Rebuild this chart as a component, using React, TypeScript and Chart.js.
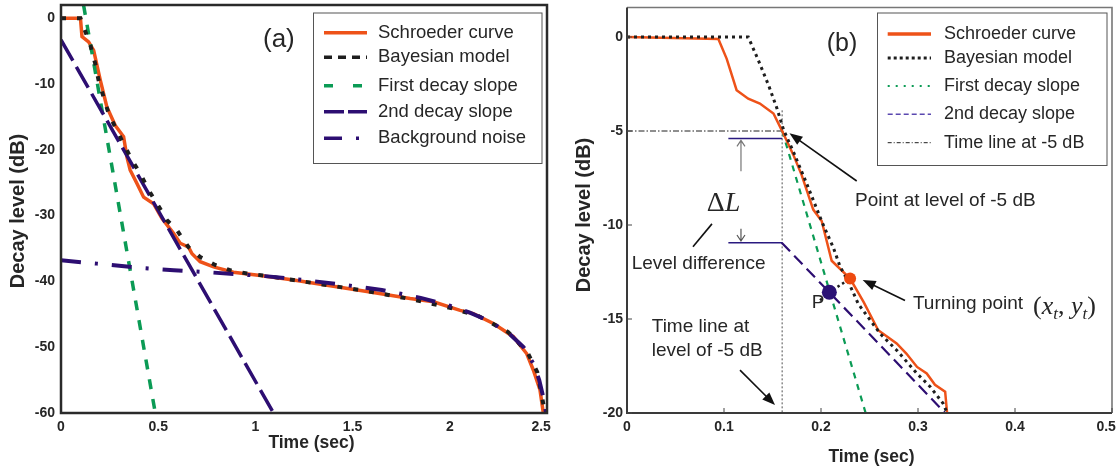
import React, { useEffect, useRef } from "react";
import { Chart, registerables } from "chart.js";
Chart.register(...registerables);

const SANS = "'Liberation Sans', Arial, Helvetica, sans-serif";
const SERIF = "'Liberation Serif', 'Times New Roman', Times, serif";

const ORANGE = "#EE5219";
const BLACK = "#1e1e1e";
const GREEN = "#0B9B55";
const PURPLE = "#2D0E72";
const TEXT = "#262626";

// ---------------- Panel (a) data ----------------
const aXTicks = [0, 0.5, 1, 1.5, 2, 2.5];
const aYTicks = [-60, -50, -40, -30, -20, -10, 0];
const aSchroederT = [0, 0.1, 0.108, 0.142, 0.168, 0.202, 0.236, 0.279, 0.322, 0.339, 0.356, 0.39, 0.425, 0.476, 0.519, 0.579, 0.613, 0.656, 0.674, 0.716, 0.785, 0.887, 1.025, 1.196, 1.368, 1.59, 1.796, 1.916, 2.053, 2.121, 2.224, 2.327, 2.396, 2.43, 2.464, 2.481];
const aSchroederL = [0, 0, -2.8, -3.6, -4.9, -9.4, -13.5, -16.3, -18, -21.1, -23.1, -25.1, -27.2, -28.2, -30.4, -32.7, -34.2, -34.8, -35.8, -37, -37.8, -38.6, -39.1, -39.8, -40.6, -41.6, -42.6, -43.1, -44.4, -44.9, -46.4, -48.4, -51, -53.5, -56.5, -60];
const aBayesT = [0, 0.1, 0.151, 0.176, 0.193, 0.219, 0.245, 0.3, 0.365, 0.408, 0.45, 0.494, 0.545, 0.596, 0.656, 0.716, 0.793, 0.87, 0.956, 1.04, 1.196, 1.4, 1.6, 1.8, 2.0, 2.15, 2.3, 2.4, 2.45, 2.49];
const aBayesL = [0, 0, -4.1, -6.9, -9.4, -12, -14.5, -17.8, -21.6, -23.6, -26.1, -28.2, -30.7, -32.2, -34.8, -36.3, -37.5, -38.3, -38.8, -39.1, -39.8, -40.7, -41.6, -42.7, -44, -45.3, -47.7, -50.8, -53.8, -60];
const aFirstT = [0.116, 0.485];
const aFirstL = [2, -60];
const aSecondT = [0, 1.093];
const aSecondL = [-3.3, -60];
const aNoiseT = [0, 0.185, 0.43, 0.58, 0.75, 0.9, 1.05, 1.25, 1.45, 1.65, 1.85, 2.0, 2.1, 2.2, 2.3, 2.38, 2.43, 2.46, 2.48, 2.495];
const aNoiseL = [-36.8, -37.3, -38, -38.3, -38.6, -38.9, -39.2, -39.8, -40.5, -41.3, -42.5, -43.7, -44.7, -46, -47.8, -50, -52.5, -55, -57.5, -60];
const aLegendLabels = ["Schroeder curve", "Bayesian model", "First decay slope", "2nd decay slope", "Background noise"];

// ---------------- Panel (b) data ----------------
const bXTicks = [0, 0.1, 0.2, 0.3, 0.4, 0.5];
const bYTicks = [-20, -15, -10, -5, 0];
const bSchroederT = [0, 0.0942, 0.1028, 0.113, 0.125, 0.137, 0.151, 0.1595, 0.1715, 0.18, 0.192, 0.2007, 0.211, 0.23, 0.244, 0.259, 0.278, 0.288, 0.299, 0.309, 0.3175, 0.328, 0.33];
const bSchroederL = [0, -0.1, -1.16, -2.83, -3.28, -3.54, -4.07, -4.95, -6.27, -7.33, -9.18, -9.79, -11.9, -12.85, -14.1, -15.6, -16.3, -16.84, -17.55, -17.9, -18.5, -18.87, -20];
const bBayesT = [0, 0.125, 0.1355, 0.146, 0.1546, 0.1615, 0.1715, 0.185, 0.2007, 0.2127, 0.2196, 0.228, 0.2385, 0.261, 0.278, 0.299, 0.3125, 0.326, 0.33];
const bBayesL = [0, 0, -1.25, -2.57, -3.8, -4.95, -6.1, -7.77, -9.8, -11.2, -12.2, -13, -14.2, -15.78, -16.66, -17.9, -18.6, -19.5, -20];
const bFirstT = [0.16, 0.246];
const bFirstL = [-5, -20];
const bSecondT = [0.1595, 0.328];
const bSecondL = [-10.94, -20];
const bTimeHT = [0, 0.16];
const bTimeHL = [-5, -5];
const bTimeVT = [0.16, 0.16];
const bTimeVL = [-3.9, -20];
const bLinkT = [0.199, 0.2086, 0.23];
const bLinkL = [-14.0, -13.58, -12.85];
const bTurnT = [0.23];
const bTurnL = [-12.85];
const bPT = [0.2086];
const bPL = [-13.58];
const bDeltaT = [0.1045, 0.16];
const bDeltaLevels = [-5.4, -10.94];
const bLegendLabels = ["Schroeder curve", "Bayesian model", "First decay slope", "2nd decay slope", "Time line at -5 dB"];

type Pt = { x: number; y: number };
const pts = (xs: number[], ys: number[]): Pt[] => xs.map((x, i) => ({ x, y: ys[i] }));

function line(label: string, xs: number[], ys: number[], color: string, width: number, dash: number[], order: number) {
  return {
    label,
    data: pts(xs, ys),
    borderColor: color,
    backgroundColor: color,
    borderWidth: width,
    borderDash: dash,
    pointRadius: 0,
    pointHoverRadius: 0,
    tension: 0,
    fill: false,
    order,
  };
}

const fitX = (h: number) => (s: any) => {
  s.height = h;
  s.paddingLeft = 0;
  s.paddingRight = 0;
};
const fitY = (w: number) => (s: any) => {
  s.width = w;
  s.paddingTop = 0;
  s.paddingBottom = 0;
};

function arrow(ctx: CanvasRenderingContext2D, x0: number, y0: number, x1: number, y1: number, len = 13, half = 5, color = "#111", lw = 1.6) {
  const a = Math.atan2(y1 - y0, x1 - x0);
  const c = Math.cos(a), s = Math.sin(a);
  ctx.save();
  ctx.setLineDash([]);
  ctx.strokeStyle = color;
  ctx.lineWidth = lw;
  ctx.beginPath();
  ctx.moveTo(x0, y0);
  ctx.lineTo(x1 - c * len * 0.8, y1 - s * len * 0.8);
  ctx.stroke();
  ctx.fillStyle = color;
  ctx.beginPath();
  ctx.moveTo(x1, y1);
  ctx.lineTo(x1 - len * c + half * s, y1 - len * s - half * c);
  ctx.lineTo(x1 - len * c - half * s, y1 - len * s + half * c);
  ctx.closePath();
  ctx.fill();
  ctx.restore();
}

function openArrow(ctx: CanvasRenderingContext2D, x: number, y0: number, y1: number, color: string) {
  const dir = y1 < y0 ? -1 : 1;
  ctx.save();
  ctx.setLineDash([]);
  ctx.strokeStyle = color;
  ctx.lineWidth = 1.2;
  ctx.beginPath();
  ctx.moveTo(x, y0);
  ctx.lineTo(x, y1);
  ctx.moveTo(x - 4, y1 - dir * 6);
  ctx.lineTo(x, y1);
  ctx.lineTo(x + 4, y1 - dir * 6);
  ctx.stroke();
  ctx.restore();
}

type LegendStyle = { width?: number; dash?: number[]; color?: string };
function drawLegend(
  chart: any,
  labels: string[],
  box: { x: number; y: number; w: number; h: number },
  rows: number[],
  sx0: number,
  sx1: number,
  tx: number,
  fontSize: number,
  overrides: Record<string, LegendStyle>
) {
  const ctx: CanvasRenderingContext2D = chart.ctx;
  ctx.save();
  ctx.fillStyle = "#fff";
  ctx.fillRect(box.x, box.y, box.w, box.h);
  ctx.strokeStyle = "#555";
  ctx.lineWidth = 1;
  ctx.setLineDash([]);
  ctx.strokeRect(box.x + 0.5, box.y + 0.5, box.w, box.h);
  labels.forEach((lab, i) => {
    const ds: any = chart.data.datasets.find((d: any) => d.label === lab);
    if (!ds) return;
    const o = overrides[lab] || {};
    ctx.strokeStyle = o.color || ds.borderColor;
    ctx.lineWidth = o.width ?? ds.borderWidth;
    ctx.setLineDash(o.dash ?? ds.borderDash ?? []);
    ctx.beginPath();
    ctx.moveTo(sx0, rows[i]);
    ctx.lineTo(sx1, rows[i]);
    ctx.stroke();
    ctx.setLineDash([]);
    ctx.fillStyle = TEXT;
    ctx.font = `${fontSize}px ${SANS}`;
    ctx.textBaseline = "middle";
    ctx.textAlign = "left";
    ctx.fillText(lab, tx, rows[i]);
  });
  ctx.restore();
}

function axisTitles(ctx: CanvasRenderingContext2D, xt: { x: number; y: number; size: number }, yt: { x: number; y: number; size: number }) {
  ctx.save();
  ctx.fillStyle = TEXT;
  ctx.textAlign = "center";
  ctx.textBaseline = "middle";
  ctx.font = `bold ${xt.size}px ${SANS}`;
  ctx.fillText("Time (sec)", xt.x, xt.y);
  ctx.translate(yt.x, yt.y);
  ctx.rotate(-Math.PI / 2);
  ctx.font = `bold ${yt.size}px ${SANS}`;
  ctx.fillText("Decay level (dB)", 0, 0);
  ctx.restore();
}

const panelAPlugin = {
  id: "panelADecor",
  afterDraw(chart: any) {
    const { ctx, chartArea: ca, scales } = chart;
    const X = (v: number) => scales.x.getPixelForValue(v);
    const Y = (v: number) => scales.y.getPixelForValue(v);
    ctx.save();
    ctx.setLineDash([]);
    ctx.strokeStyle = "#2a2a2a";
    ctx.lineWidth = 2.5;
    ctx.strokeRect(ca.left, ca.top, ca.right - ca.left, ca.bottom - ca.top);
    ctx.restore();
    drawLegend(chart, aLegendLabels, { x: 313, y: 12.5, w: 228.5, h: 150.5 }, [32.7, 57.3, 85.7, 111.7, 138.3], 324, 367, 378, 18.5, {
      "Bayesian model": { dash: [8, 6], width: 3.5 },
      "First decay slope": { dash: [9, 20], width: 3.5 },
      "2nd decay slope": { dash: [20, 4], width: 3.5 },
      "Background noise": { dash: [18, 14, 3, 14], width: 3.5 },
    });
    ctx.save();
    ctx.fillStyle = TEXT;
    ctx.font = `26px ${SANS}`;
    ctx.textBaseline = "middle";
    ctx.textAlign = "left";
    ctx.fillText("(a)", X(1.039), Y(-3.32));
    ctx.restore();
    axisTitles(ctx, { x: 311.5, y: 443.5, size: 17.5 }, { x: 18, y: 211, size: 20 });
  },
};

const panelBPlugin = {
  id: "panelBDecor",
  afterDraw(chart: any) {
    const { ctx, chartArea: ca, scales } = chart;
    const X = (v: number) => scales.x.getPixelForValue(v);
    const Y = (v: number) => scales.y.getPixelForValue(v);
    ctx.save();
    ctx.setLineDash([]);
    ctx.strokeStyle = "#777";
    ctx.lineWidth = 1.6;
    ctx.beginPath();
    ctx.moveTo(ca.left, ca.top);
    ctx.lineTo(ca.right, ca.top);
    ctx.lineTo(ca.right, ca.bottom);
    ctx.stroke();
    ctx.strokeStyle = "#3a3a3a";
    ctx.lineWidth = 2;
    ctx.beginPath();
    ctx.moveTo(ca.left, ca.top);
    ctx.lineTo(ca.left, ca.bottom);
    ctx.lineTo(ca.right, ca.bottom);
    ctx.stroke();
    ctx.lineWidth = 1;
    ctx.strokeStyle = "#444";
    bXTicks.forEach((v) => {
      if (v === 0) return;
      ctx.beginPath();
      ctx.moveTo(X(v), ca.bottom);
      ctx.lineTo(X(v), ca.bottom - 5);
      ctx.stroke();
    });
    bYTicks.forEach((v) => {
      ctx.beginPath();
      ctx.moveTo(ca.left, Y(v));
      ctx.lineTo(ca.left + 5, Y(v));
      ctx.stroke();
    });
    ctx.strokeStyle = "#2a1a80";
    ctx.lineWidth = 1.4;
    bDeltaLevels.forEach((lv) => {
      ctx.beginPath();
      ctx.moveTo(X(bDeltaT[0]), Y(lv));
      ctx.lineTo(X(bDeltaT[1]), Y(lv));
      ctx.stroke();
    });
    ctx.restore();
    openArrow(ctx, X(0.1175), Y(-7.14), Y(-5.5), "#777");
    openArrow(ctx, X(0.1175), Y(-10.2), Y(-10.85), "#555");

    ctx.save();
    ctx.fillStyle = TEXT;
    ctx.textAlign = "left";
    ctx.textBaseline = "middle";
    ctx.font = `25px ${SANS}`;
    ctx.fillText("(b)", X(0.2059), Y(-0.39));
    ctx.font = `19px ${SANS}`;
    ctx.fillText("Point at level of -5 dB", X(0.2351), Y(-8.72));
    ctx.fillText("Turning point", X(0.2948), Y(-14.18));
    ctx.fillText("Time line at", X(0.0255), Y(-15.43));
    ctx.fillText("level of -5 dB", X(0.0255), Y(-16.7));
    ctx.fillText("Level difference", X(0.0048), Y(-12.07));
    ctx.fillText("P", X(0.1904), Y(-14.14));
    ctx.textBaseline = "alphabetic";
    let cx = X(0.0822);
    const by = Y(-9.25);
    ctx.font = `28px ${SERIF}`;
    ctx.fillText("Δ", cx, by);
    cx += ctx.measureText("Δ").width;
    ctx.font = `italic 28px ${SERIF}`;
    ctx.fillText("L", cx, by);
    cx = X(0.4186);
    const base = Y(-14.76);
    const seg = (txt: string, font: string, dy = 0) => {
      ctx.font = font;
      ctx.fillText(txt, cx, base + dy);
      cx += ctx.measureText(txt).width;
    };
    seg("(", `26px ${SERIF}`);
    seg("x", `italic 26px ${SERIF}`);
    seg("t", `italic 17px ${SERIF}`, 5);
    seg(", ", `26px ${SERIF}`);
    seg("y", `italic 26px ${SERIF}`);
    seg("t", `italic 17px ${SERIF}`, 5);
    seg(")", `26px ${SERIF}`);
    ctx.restore();

    ctx.save();
    ctx.strokeStyle = "#111";
    ctx.lineWidth = 1.6;
    ctx.beginPath();
    ctx.moveTo(X(0.068), Y(-11.16));
    ctx.lineTo(X(0.0876), Y(-9.94));
    ctx.stroke();
    ctx.restore();
    arrow(ctx, X(0.2368), Y(-7.66), X(0.1675), Y(-5.12));
    arrow(ctx, X(0.2866), Y(-14.02), X(0.243), Y(-12.92));
    arrow(ctx, X(0.1165), Y(-17.72), X(0.1526), Y(-19.58));

    drawLegend(chart, bLegendLabels, { x: 317, y: 12.5, w: 229.5, h: 152.5 }, [34, 58, 86, 114.3, 142.7], 327.7, 371, 384, 18, {
      "Schroeder curve": { width: 3.5 },
      "Bayesian model": { dash: [3, 3], width: 3 },
      "First decay slope": { dash: [2, 6], width: 2 },
      "2nd decay slope": { dash: [5, 3], width: 1.5, color: "#5a48b0" },
      "Time line at -5 dB": { dash: [4, 2, 1, 2], width: 1 },
    });
    axisTitles(ctx, { x: 311.5, y: 456.7, size: 17.5 }, { x: 24, y: 215, size: 20 });
  },
};

// the last x label sits slightly left of its tick in the reference; trailing spaces keep it centred there
const xLabel = (last: number) => (v: any) => (v === last ? String(v) + "   " : String(v));

function baseOptions(xMin: number, xMax: number, yMin: number, yMax: number, xTicks: number[], yTicks: number[], padRight: number, yWidth: number, xPad: number, yPad: number) {
  const tickFont = { family: SANS, size: 14, weight: "bold" as const };
  return {
    animation: false as const,
    responsive: false,
    devicePixelRatio: 1,
    events: [] as any[],
    layout: { padding: { left: 0, top: 5, right: padRight, bottom: 0 } },
    plugins: { legend: { display: false }, tooltip: { enabled: false }, title: { display: false } },
    scales: {
      x: {
        type: "linear" as const,
        min: xMin,
        max: xMax,
        afterBuildTicks: (s: any) => {
          s.ticks = xTicks.map((v) => ({ value: v }));
        },
        afterFit: fitX(54),
        grid: { display: false, drawTicks: false },
        border: { display: false },
        ticks: { font: tickFont, color: TEXT, padding: xPad, maxRotation: 0, autoSkip: false, callback: xLabel(xTicks[xTicks.length - 1]) },
      },
      y: {
        type: "linear" as const,
        min: yMin,
        max: yMax,
        afterBuildTicks: (s: any) => {
          s.ticks = yTicks.map((v) => ({ value: v }));
        },
        afterFit: fitY(yWidth),
        grid: { display: false, drawTicks: false },
        border: { display: false },
        ticks: { font: tickFont, color: TEXT, padding: yPad, autoSkip: false, callback: (v: any) => String(v) },
      },
    },
  };
}

function PanelA() {
  const ref = useRef<HTMLCanvasElement>(null);
  useEffect(() => {
    if (!ref.current) return;
    const chart = new Chart(ref.current, {
      type: "line",
      data: {
        datasets: [
          line("Schroeder curve", aSchroederT, aSchroederL, ORANGE, 3.5, [], 5),
          line("Bayesian model", aBayesT, aBayesL, BLACK, 4, [5, 11], 2),
          line("First decay slope", aFirstT, aFirstL, GREEN, 3.5, [10, 10], 4),
          line("2nd decay slope", aSecondT, aSecondL, PURPLE, 3.5, [24, 7], 3),
          line("Background noise", aNoiseT, aNoiseL, PURPLE, 4, [20, 14, 3, 14], 1),
        ],
      },
      options: baseOptions(0, 2.5, -60, 2, aXTicks, aYTicks, 13, 61, 5.3, 6) as any,
      plugins: [panelAPlugin],
    });
    return () => chart.destroy();
  }, []);
  return <canvas ref={ref} width={560} height={467} style={{ position: "absolute", left: 0, top: 0, width: 560, height: 467 }} />;
}

function PanelB() {
  const ref = useRef<HTMLCanvasElement>(null);
  useEffect(() => {
    if (!ref.current) return;
    const marker = (label: string, xs: number[], ys: number[], color: string, r: number, order: number) => ({
      label,
      data: pts(xs, ys),
      showLine: false,
      pointRadius: r,
      pointHoverRadius: r,
      pointBackgroundColor: color,
      pointBorderColor: color,
      pointBorderWidth: 0,
      borderColor: color,
      backgroundColor: color,
      order,
    });
    const chart = new Chart(ref.current, {
      type: "line",
      data: {
        datasets: [
          line("Schroeder curve", bSchroederT, bSchroederL, ORANGE, 2.5, [], 3),
          line("Bayesian model", bBayesT, bBayesL, BLACK, 3, [3, 4], 1),
          line("First decay slope", bFirstT, bFirstL, GREEN, 2.2, [6, 6], 4),
          line("2nd decay slope", bSecondT, bSecondL, PURPLE, 2.2, [12, 6], 5),
          line("Time line at -5 dB", bTimeHT, bTimeHL, BLACK, 1, [6, 2, 1.5, 2], 6),
          line("Time line (vertical)", bTimeVT, bTimeVL, "#8a8a8a", 1.5, [2, 2], 7),
          line("P to turning point", bLinkT, bLinkL, BLACK, 2.5, [2.5, 3], 2),
          marker("Turning point", bTurnT, bTurnL, "#EE4A10", 6, 0),
          marker("P", bPT, bPL, "#2B1275", 7.5, 0),
        ],
      },
      options: baseOptions(0, 0.5, -20, 1.57, bXTicks, bYTicks, 8, 67, 6, 4) as any,
      plugins: [panelBPlugin],
    });
    return () => chart.destroy();
  }, []);
  return <canvas ref={ref} width={560} height={467} style={{ position: "absolute", left: 560, top: 0, width: 560, height: 467 }} />;
}

export default function App() {
  return (
    <div style={{ position: "fixed", left: 0, top: 0, width: 1120, height: 467, background: "#fff", overflow: "hidden" }}>
      <PanelA />
      <PanelB />
    </div>
  );
}
